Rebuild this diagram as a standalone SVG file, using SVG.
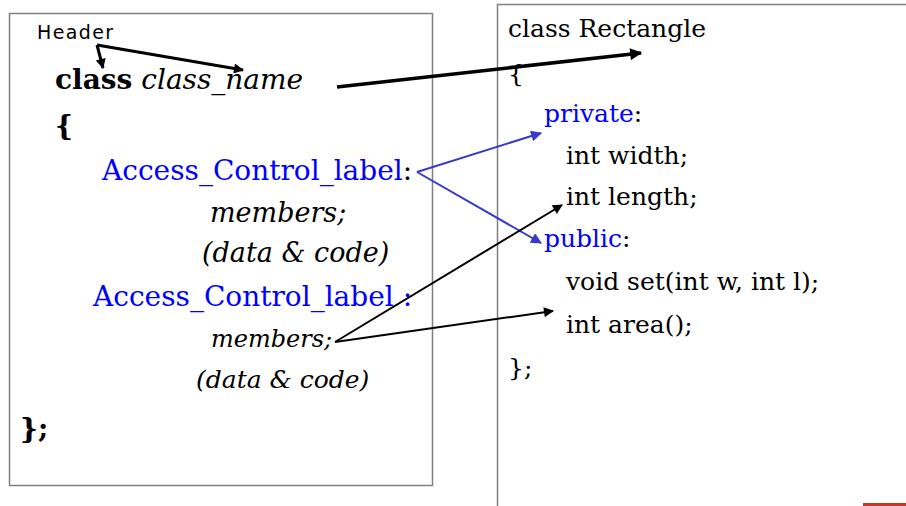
<svg xmlns="http://www.w3.org/2000/svg" width="906" height="506" viewBox="0 0 906 506">
<style>
.box{fill:none;stroke:#808080;stroke-width:1.5}
.t{font-family:"DejaVu Serif","Liberation Serif",serif;fill:#000}
.L{font-size:28px}
.R{font-size:25px}
.b{font-weight:bold}
.i{font-style:italic}
.blue{fill:#0000ff}
.hdr{font-family:"DejaVu Sans","Liberation Sans",sans-serif;font-size:19px;fill:#000}
.k{stroke:#000;fill:none}
.bl{stroke:#3a3ac8;fill:none;stroke-width:2}
</style>
<defs>
<marker id="akb" viewBox="0 0 10 10" refX="9" refY="5" markerWidth="14" markerHeight="12" orient="auto" markerUnits="userSpaceOnUse"><path d="M0,0 L10,5 L0,10 z" fill="#000"/></marker>
<marker id="akm" viewBox="0 0 10 10" refX="9" refY="5" markerWidth="12" markerHeight="10" orient="auto" markerUnits="userSpaceOnUse"><path d="M0,0 L10,5 L0,10 z" fill="#000"/></marker>
<marker id="ab" viewBox="0 0 10 10" refX="9" refY="5" markerWidth="13" markerHeight="11" orient="auto" markerUnits="userSpaceOnUse"><path d="M0,0 L10,5 L0,10 z" fill="#3a3ac8"/></marker>
</defs>
<rect width="906" height="506" fill="#fff"/>
<g id="left-box">
<rect class="box" x="9.5" y="13.5" width="423" height="472"/>
<text class="hdr" x="37" y="39" textLength="76">Header</text>
<text class="t L" x="55" y="89"><tspan class="b">class</tspan> <tspan class="i">class_name</tspan></text>
<text class="t L b" x="55" y="135">{</text>
<text class="t L" x="102" y="180"><tspan class="blue">Access_Control_label</tspan>:</text>
<text class="t i" font-size="27" x="210" y="222">members;</text>
<text class="t i" font-size="27" x="202" y="262">(data &amp; code)</text>
<text class="t L blue" x="93" y="306">Access_Control_label :</text>
<text class="t i" font-size="24" x="211" y="347">members;</text>
<text class="t i" font-size="25" x="196" y="388">(data &amp; code)</text>
<text class="t L b" x="20" y="438">};</text>
</g>
<g id="right-box">
<path class="box" d="M497.5,506 V4.5 H906"/>
<text class="t R" x="508" y="37">class Rectangle</text>
<text class="t R" x="508" y="82">{</text>
<text class="t R" x="544" y="122"><tspan class="blue">private</tspan>:</text>
<text class="t R" x="566" y="164">int width;</text>
<text class="t R" x="566" y="205">int length;</text>
<text class="t R" x="544" y="247"><tspan class="blue">public</tspan>:</text>
<text class="t R" x="566" y="290">void set(int w, int l);</text>
<text class="t R" x="566" y="333">int area();</text>
<text class="t R" x="508" y="376">};</text>
</g>
<rect x="863" y="503" width="43" height="3" fill="#c0392b"/>
<g id="connectors">
<path class="k" stroke-width="3" d="M97,45 L103,68" marker-end="url(#akm)"/>
<path class="k" stroke-width="3" d="M97,45 L243,70" marker-end="url(#akm)"/>
<path class="k" stroke-width="3.5" d="M337,87 L641,53" marker-end="url(#akb)"/>
<path class="bl" d="M417,172 L541,133" marker-end="url(#ab)"/>
<path class="bl" d="M417,172 L541,243" marker-end="url(#ab)"/>
<path class="k" stroke-width="2" d="M335,342 L562,205" marker-end="url(#akm)"/>
<path class="k" stroke-width="2" d="M335,342 L553,311" marker-end="url(#akm)"/>
</g>
</svg>
